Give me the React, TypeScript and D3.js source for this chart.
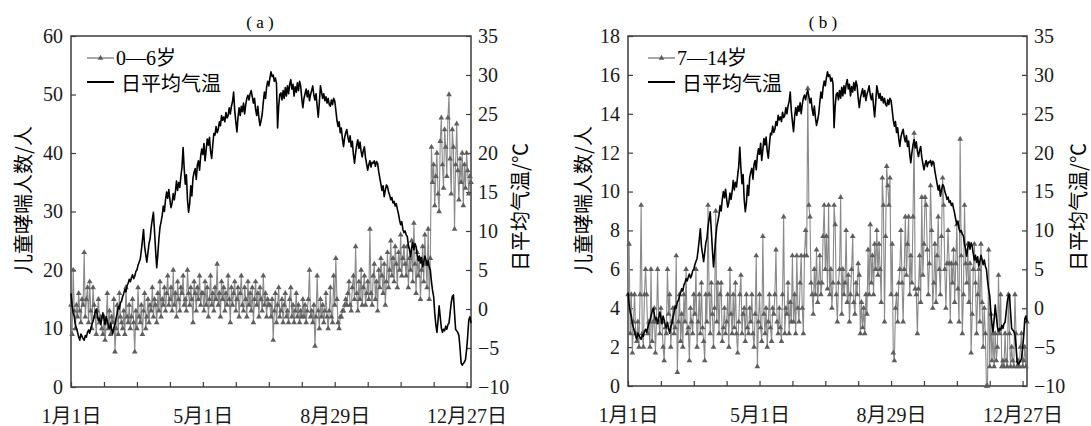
import React, { useEffect, useRef } from "react";
import * as d3 from "d3";

// x axis: day of year (0 = 1月1日), labelled ticks every 120 days, minor ticks every 30
const dateTickDays = [0, 120, 240, 360];
const dateTickLabels = ["1月1日", "5月1日", "8月29日", "12月27日"];
const tempTicks = [-10, -5, 0, 5, 10, 15, 20, 25, 30, 35];

// daily mean air temperature (℃), one line per month
const dailyTemp = [
  2.0, 0.5, -0.5, -1.0, -2.0, -2.5, -3.0, -3.6, -4.0, -3.2, -3.5, -3.8, -4.0, -3.4, -3.6, -3.0, -2.7, -3.1, -2.5, -2.0, -1.6, -1.0, -0.4, 0.0, -0.8, -1.5, -1.2, -2.0, -1.3, -0.5, -1.2,
  -2.0, -1.0, -1.5, -2.2, -2.5, -1.8, -2.6, -3.2, -2.4, -2.0, -1.2, -0.6, 0.3, 0.0, 0.8, 1.0, 1.6, 2.0, 2.5, 2.2, 3.0, 3.3, 3.8, 3.5, 4.0, 4.4, 3.9, 4.2,
  4.8, 5.0, 5.6, 6.0, 6.4, 7.5, 8.8, 10.2, 8.0, 7.0, 6.0, 7.2, 8.4, 9.0, 10.5, 11.5, 12.4, 10.0, 7.5, 5.3, 7.0, 9.0, 10.5, 11.2, 12.0, 13.2, 12.5, 14.0, 15.0, 14.2, 15.3,
  14.0, 13.0, 13.6, 14.8, 14.0, 15.0, 16.4, 15.2, 16.2, 15.6, 17.0, 18.2, 20.7, 18.0, 16.0, 17.2, 14.0, 12.4, 13.5, 15.8, 14.5, 16.8, 17.5, 18.0, 16.6, 18.5, 19.0, 17.8, 19.6, 20.5,
  19.8, 21.2, 19.0, 20.4, 21.8, 21.0, 22.0, 20.2, 19.3, 21.0, 22.5, 22.3, 23.4, 22.6, 23.0, 24.0, 23.5, 24.8, 24.2, 24.6, 24.0, 25.2, 24.5, 24.8, 25.8, 25.0, 26.0, 26.6, 27.8, 25.4, 24.0,
  22.7, 24.6, 25.8, 24.8, 26.0, 25.3, 26.4, 25.0, 26.2, 27.0, 27.4, 26.8, 27.6, 28.0, 27.2, 26.4, 27.0, 25.6, 24.8, 26.0, 24.5, 23.5, 24.2, 25.0, 26.5, 27.8, 27.0, 28.4, 29.2, 28.6,
  29.6, 30.4, 29.8, 30.0, 29.2, 29.6, 28.9, 23.2, 26.0, 27.5, 27.7, 26.8, 28.0, 27.0, 28.4, 27.3, 28.6, 27.6, 28.8, 29.4, 28.2, 28.8, 27.3, 28.5, 27.8, 29.0, 28.0, 29.2, 28.6, 27.0, 25.8,
  27.0, 27.6, 28.2, 27.2, 28.0, 26.7, 27.5, 28.0, 28.6, 27.4, 26.8, 27.6, 26.0, 24.6, 26.5, 28.6, 27.8, 27.0, 27.6, 26.7, 27.2, 26.4, 27.0, 26.2, 26.0, 26.8, 26.2, 27.0, 26.7, 25.5, 24.2,
  23.4, 24.0, 22.6, 23.2, 21.8, 20.8, 22.0, 22.6, 23.0, 22.0, 21.4, 22.2, 20.8, 21.5, 19.8, 18.7, 20.0, 21.0, 21.7, 20.6, 21.4, 20.2, 19.5, 20.3, 20.8, 19.4, 18.6, 17.8, 18.5, 19.0,
  18.2, 18.8, 18.7, 19.0, 18.3, 18.9, 18.7, 17.6, 16.8, 16.0, 15.2, 15.8, 14.4, 15.2, 15.9, 15.7, 15.0, 14.6, 14.0, 14.3, 13.6, 13.8, 13.2, 13.5, 12.8, 12.2, 11.4, 10.8, 11.2, 10.2, 9.8,
  10.0, 9.5, 9.3, 8.2, 7.6, 6.7, 7.8, 8.5, 7.6, 8.4, 8.0, 7.0, 6.2, 6.8, 5.9, 6.6, 5.4, 6.0, 6.8, 6.3, 5.6, 6.2, 5.4, 5.0, 3.5, 2.4, 1.6, -0.5, -2.0, -3.0,
  -1.5, 0.4, -1.0, -2.4, -3.0, -2.6, -2.8, -2.2, -2.6, -2.0, -1.8, -0.5, 0.8, 1.6, 1.8, -0.5, -2.6, -2.8, -3.0, -3.4, -5.0, -6.9, -7.2, -7.0, -6.8, -6.5, -5.2, -3.5, -1.4, -1.0, -1.8,
];

// asthma cases per day, children aged 0-6
const kids0to6 = [
  14, 9, 20, 13, 10, 14, 12, 16, 13, 11, 15, 14, 23, 12, 15, 17, 11, 18, 13, 10, 17, 14, 12, 9, 13, 15, 11, 12, 10, 9, 12,
  8, 11, 16, 10, 13, 9, 12, 11, 15, 6, 10, 14, 9, 16, 12, 11, 10, 13, 9, 17, 12, 11, 14, 10, 12, 15, 11, 6,
  13, 10, 17, 12, 11, 14, 9, 13, 16, 10, 12, 15, 11, 14, 13, 17, 12, 15, 14, 11, 16, 13, 18, 12, 15, 14, 17, 13, 16, 19, 14,
  15, 17, 13, 20, 14, 16, 12, 18, 15, 13, 17, 16, 19, 14, 15, 13, 20, 16, 14, 17, 15, 11, 18, 16, 13, 17, 15, 19, 14, 16,
  16, 13, 18, 14, 17, 12, 15, 19, 14, 16, 13, 17, 15, 21, 14, 16, 12, 18, 15, 17, 13, 16, 14, 19, 15, 11, 17, 14, 16, 18, 13,
  15, 17, 12, 16, 19, 14, 13, 17, 15, 12, 18, 14, 16, 13, 17, 11, 15, 18, 14, 16, 12, 17, 15, 13, 19, 14, 16, 12, 15, 14,
  14, 12, 15, 8, 13, 16, 11, 14, 17, 12, 13, 15, 11, 14, 16, 12, 13, 11, 15, 17, 12, 14, 11, 13, 16, 12, 14, 11, 13, 12, 15,
  12, 14, 11, 13, 15, 20, 12, 13, 11, 14, 7, 12, 19, 13, 10, 15, 12, 14, 11, 13, 16, 12, 10, 13, 17, 12, 11, 19, 14, 22, 15,
  11, 10, 12, 12, 13, 13, 14, 15, 14, 16, 18, 14, 13, 17, 19, 15, 24, 16, 13, 18, 15, 20, 14, 17, 19, 14, 16, 18, 15, 27,
  16, 14, 19, 21, 15, 18, 13, 20, 17, 22, 19, 16, 21, 14, 18, 23, 17, 20, 25, 19, 22, 18, 24, 21, 17, 23, 20, 26, 19, 22, 24,
  21, 19, 24, 17, 22, 20, 25, 18, 28, 21, 16, 23, 19, 22, 15, 20, 24, 18, 26, 21, 17, 27, 15, 22,
  41, 35, 38, 31, 36, 40, 33, 30, 42, 46, 38, 34, 44, 41, 36, 46, 50, 39, 33, 44, 41, 27, 38, 45, 37, 32, 39, 35, 40, 31, 38, 34, 40, 37, 33, 36, 35,
];

// asthma cases per day, children aged 7-14
const kids7to14 = [
  4.7, 7.3, 2.7, 4.7, 1.7, 3.3, 4.7, 2.7, 2.3, 3.3, 2, 4.7, 9.3, 2.7, 2, 4.7, 6, 4.7, 2.7, 3.3, 2, 6, 2.3, 3.3, 4, 1.7, 3.3, 6, 3.3, 2.7, 4,
  3.3, 2, 1.3, 3, 2.7, 6, 3.7, 4.7, 2, 3.3, 4, 2.7, 3, 6.7, 0.7, 3.3, 4.7, 2.3, 3.7, 2, 4.7, 3.3, 6, 2.7, 3, 1.3, 4, 3.3,
  2.7, 4.7, 3.7, 6, 2, 3.3, 4.7, 2.7, 5.3, 3, 2.3, 1.3, 4.7, 3.3, 9.3, 4.7, 2.7, 5.3, 3.7, 2, 4, 9, 3.3, 5.3, 2.7, 4.7, 5.3, 2.3, 3, 4, 2.7,
  3.3, 4.7, 2, 6, 3.7, 2.7, 4.7, 3, 5.3, 2.7, 1.7, 3.3, 4.7, 5.7, 2.7, 3.7, 4, 2.3, 4.7, 3, 2.7, 4, 3.3, 4.7, 2.7, 2, 3.7, 6.7, 1, 3.3,
  4.7, 3, 2.3, 7.7, 3.7, 2.7, 4, 2, 3.3, 4.7, 3, 2.3, 4, 3.7, 4.7, 7, 3.3, 2.7, 4, 3, 2.3, 4.7, 8.7, 2.7, 4, 3.7, 5.3, 2.7, 4.3, 3.3, 6.7,
  3.3, 4.7, 2.7, 6.7, 4, 3.3, 5.3, 6.7, 4, 2.7, 6.7, 8, 6.7, 15.3, 9.3, 8.7, 5.3, 4.7, 3.7, 6, 4.7, 7, 4.3, 5.3, 6.7, 4.7, 5.3, 7.7, 9.3, 6,
  7.7, 5, 9.3, 4.7, 6, 4, 5.3, 9.3, 8.3, 4.7, 3.3, 5.3, 6, 9.7, 3.7, 6, 4.7, 5.3, 8, 4.3, 5.7, 3.3, 4.7, 6, 7.7, 4.3, 3.7, 5.3, 4.7, 6.3, 5.7,
  2.7, 4.3, 3, 4, 2.7, 4.7, 3.7, 7, 4.7, 8.3, 5.3, 6.7, 4.7, 7.3, 6, 8, 5.7, 7.3, 6, 4.3, 10.7, 9.3, 3.3, 7.7, 11.3, 10.3, 9.3, 10.7, 4.7, 7.3, 1.7,
  1.3, 4, 4.7, 3.3, 5.3, 6, 8, 5.3, 3.3, 6, 8.7, 5.7, 7.3, 8.7, 4.7, 6.7, 5.3, 8.7, 13, 5, 4.7, 2.7, 5, 6.7, 4.3, 9.7, 5.7, 7.3, 9.7, 9.3,
  7, 4.7, 6.3, 10.3, 8, 4, 5.3, 7.3, 4.3, 6.7, 8.7, 6, 4.7, 7.7, 10.7, 9.3, 6, 4, 6.3, 8, 6.3, 3.3, 6.3, 5.3, 7, 4.3, 6.3, 8.3, 5, 3.3, 12.7,
  6.7, 2.7, 4.7, 9.3, 6.3, 5.3, 7.3, 4.3, 6.3, 1.7, 3.7, 6, 7.3, 5.3, 2.7, 4.7, 6, 3.3, 7.3, 4.3, 2, 4, 2.7, 0, 0, 7, 1, 3.7, 1.3, 2.7,
  1, 2.7, 1.3, 2, 5.7, 2.7, 4.7, 1, 1.3, 1, 2.7, 1.3, 1, 4.7, 2.7, 1, 2, 1.3, 1, 4.7, 2.7, 1, 1.3, 1, 2, 2.7, 1, 1.3, 2, 1, 3.3,
];

const SERIF = "'Liberation Serif', 'Times New Roman', Tinos, 'DejaVu Serif', 'Noto Sans CJK SC', serif";
const CJK = "'Noto Sans CJK SC', sans-serif";
const AXIS = "#3c3c3c";
const GRAY = "#8a8a8a";
const MARK = "#5e5e5e";

const panels = [
  {
    title: "( a )", counts: kids0to6, ageLabel: "0—6岁", countMax: 60, countStep: 10,
    left: 71, right: 471, top: 36, bottom: 387,
    titleX: 260, leftTitleX: 22, rightTitleX: 519, legendX: 87,
  },
  {
    title: "( b )", counts: kids7to14, ageLabel: "7—14岁", countMax: 18, countStep: 2,
    left: 628, right: 1027, top: 36, bottom: 386,
    titleX: 823, leftTitleX: 582, rightTitleX: 1077, legendX: 648,
  },
];

const fmtTemp = (d) => (d < 0 ? "−" + Math.abs(d) : String(d));

const App = () => {
  const svgRef = useRef(null);

  useEffect(() => {
    const svg = d3.select(svgRef.current);
    svg.selectAll("*").remove();

    panels.forEach((p) => {
      const g = svg.append("g");
      const x = d3.scaleLinear().domain([0, 364]).range([p.left, p.right]);
      const yCount = d3.scaleLinear().domain([0, p.countMax]).range([p.bottom, p.top]);
      const yTemp = d3.scaleLinear().domain([-10, 35]).range([p.bottom, p.top]);

      // axes, ticks pointing inwards
      const xAxis = d3
        .axisBottom(x)
        .tickValues(d3.range(0, 361, 30))
        .tickSizeInner(-5)
        .tickSizeOuter(0)
        .tickPadding(22)
        .tickFormat((d) => {
          const i = dateTickDays.indexOf(+d);
          return i >= 0 ? dateTickLabels[i] : "";
        });
      const leftAxis = d3
        .axisLeft(yCount)
        .tickValues(d3.range(0, p.countMax + 0.001, p.countStep))
        .tickSizeInner(-5)
        .tickSizeOuter(0)
        .tickPadding(8);
      const rightAxis = d3
        .axisRight(yTemp)
        .tickValues(tempTicks)
        .tickSizeInner(-5)
        .tickSizeOuter(0)
        .tickPadding(7)
        .tickFormat(fmtTemp);

      const axes = [
        g.append("g").attr("transform", `translate(0,${p.bottom})`).call(xAxis),
        g.append("g").attr("transform", `translate(${p.left},0)`).call(leftAxis),
        g.append("g").attr("transform", `translate(${p.right},0)`).call(rightAxis),
      ];
      axes.forEach((a) => {
        a.select(".domain").remove();
        a.attr("font-family", SERIF).attr("font-size", 20);
        a.selectAll("line").attr("stroke", AXIS).attr("stroke-width", 1.2);
        a.selectAll("text").attr("fill", "#1a1a1a");
      });

      // frame
      g.append("rect")
        .attr("x", p.left)
        .attr("y", p.top)
        .attr("width", p.right - p.left)
        .attr("height", p.bottom - p.top)
        .attr("fill", "none")
        .attr("stroke", AXIS)
        .attr("stroke-width", 1.5);

      // case counts: gray line with triangle markers
      const countLine = d3
        .line()
        .x((d, i) => x(i))
        .y((d) => yCount(d));
      g.append("path")
        .attr("d", countLine(p.counts))
        .attr("fill", "none")
        .attr("stroke", GRAY)
        .attr("stroke-width", 1.1);
      const tri = d3.symbol(d3.symbolTriangle, 14);
      g.append("g")
        .selectAll("path")
        .data(p.counts)
        .join("path")
        .attr("d", tri)
        .attr("transform", (d, i) => `translate(${x(i)},${yCount(d)})`)
        .attr("fill", MARK);

      // daily mean temperature on the right axis
      const tempLine = d3
        .line()
        .x((d, i) => x(i))
        .y((d) => yTemp(d));
      g.append("path")
        .attr("d", tempLine(dailyTemp))
        .attr("fill", "none")
        .attr("stroke", "#000")
        .attr("stroke-width", 1.6)
        .attr("stroke-linejoin", "round");

      // legend
      const lx = p.legendX;
      g.append("line")
        .attr("x1", lx).attr("x2", lx + 27).attr("y1", 58).attr("y2", 58)
        .attr("stroke", GRAY).attr("stroke-width", 1.5);
      g.append("path")
        .attr("d", tri)
        .attr("transform", `translate(${lx + 13.5},58)`)
        .attr("fill", MARK);
      g.append("text")
        .attr("x", lx + 29).attr("y", 58)
        .attr("dominant-baseline", "central")
        .attr("font-family", SERIF).attr("font-size", 20)
        .text(p.ageLabel);
      g.append("line")
        .attr("x1", lx).attr("x2", lx + 27).attr("y1", 82).attr("y2", 82)
        .attr("stroke", "#000").attr("stroke-width", 2);
      g.append("text")
        .attr("x", lx + 34).attr("y", 82)
        .attr("dominant-baseline", "central")
        .attr("font-family", CJK).attr("font-size", 20)
        .text("日平均气温");

      // titles
      g.append("text")
        .attr("x", p.titleX).attr("y", 22)
        .attr("text-anchor", "middle").attr("dominant-baseline", "central")
        .attr("font-family", SERIF).attr("font-size", 17)
        .text(p.title);
      g.append("text")
        .attr("transform", `translate(${p.leftTitleX},200) rotate(-90)`)
        .attr("text-anchor", "middle").attr("dominant-baseline", "central")
        .attr("font-family", CJK).attr("font-size", 20)
        .text("儿童哮喘人数/人");
      g.append("text")
        .attr("transform", `translate(${p.rightTitleX},207) rotate(-90)`)
        .attr("text-anchor", "middle").attr("dominant-baseline", "central")
        .attr("font-family", CJK).attr("font-size", 20)
        .text("日平均气温/℃");
    });
  }, []);

  return (
    <svg
      ref={svgRef}
      width={1091}
      height={426}
      style={{ position: "absolute", left: 0, top: 0, background: "#fff" }}
    />
  );
};

export default App;
